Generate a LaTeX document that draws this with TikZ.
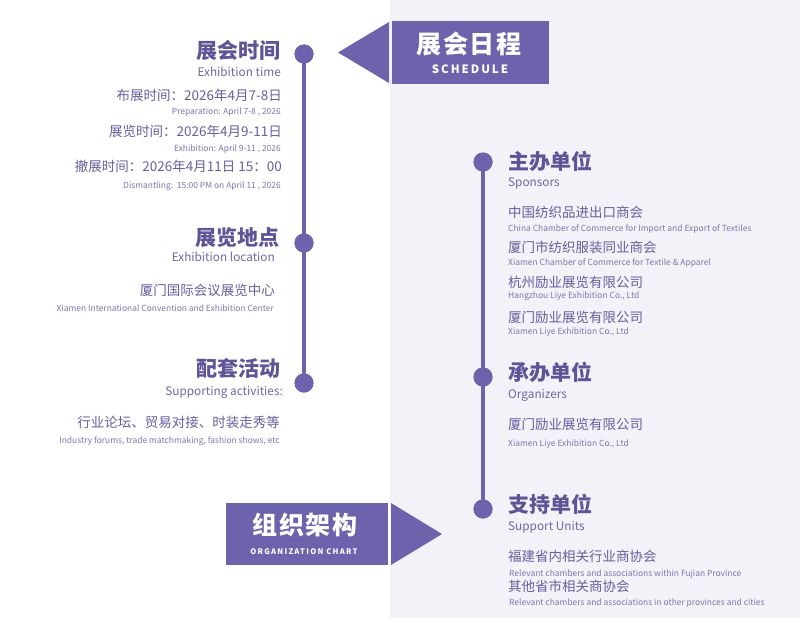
\documentclass[tikz,border=0pt]{standalone}
\usepackage{fontspec}
\setmainfont{Noto Sans CJK SC}
\newfontfamily\spacedfont{Noto Sans CJK SC}[LetterSpace=17]
\newfontfamily\spacedcjk{Noto Sans CJK SC}[LetterSpace=6]
\definecolor{mainpurple}{HTML}{6C63AC}
\definecolor{panel}{HTML}{F3F2F9}
\definecolor{titlecol}{HTML}{5E5596}
\definecolor{itemcol}{HTML}{675F9E}
\definecolor{subcol}{HTML}{6F68A3}
\definecolor{smallcol}{HTML}{7C76AD}
\tikzset{
  ttl/.style={font=\bfseries\fontsize{21}{21}\selectfont, text=titlecol, inner sep=0pt, text height=0.78em, text depth=0pt},
  ensub/.style={font=\fontsize{11.8}{11.8}\selectfont, text=subcol, inner sep=0pt, text height=0.72em, text depth=0pt},
  itm/.style={font=\fontsize{13.5}{13.5}\selectfont, text=itemcol, inner sep=0pt, text height=0.78em, text depth=0pt},
  sml/.style={font=\fontsize{8.45}{8.45}\selectfont, text=smallcol, inner sep=0pt, text height=0.72em, text depth=0pt},
  dot/.style={circle, fill=mainpurple, minimum size=19pt, inner sep=0pt},
  tline/.style={draw=mainpurple, line width=4pt},
  bannerbox/.style={fill=mainpurple, inner sep=0pt},
  bantitle/.style={font=\spacedcjk\bfseries\fontsize{25}{25}\selectfont, text=white, inner sep=0pt},
  bansub/.style={font=\spacedfont\bfseries\fontsize{11.5}{11.5}\selectfont, text=white, inner sep=0pt},
  bansubsmall/.style={font=\spacedfont\bfseries\fontsize{7.6}{7.6}\selectfont, text=white, inner sep=0pt}
}
\begin{document}
\begin{tikzpicture}[x=1pt,y=-1pt]
\useasboundingbox (0,0) rectangle (800,618);
\fill[white] (0,0) rectangle (390,618);
\fill[panel] (390,0) rectangle (800,618);

% top banner
\node[bannerbox, minimum width=157pt, minimum height=63pt] (schedbox) at (470.5,52.5) {};
\fill[mainpurple] (338,52.5) -- (389,22) -- (389,83) -- cycle;
\node[bantitle] (schedt) at (469,44) {展会日程};
\node[bansub] (scheds) at (470,69) {SCHEDULE};

% bottom banner
\node[bannerbox, minimum width=162pt, minimum height=62pt] (orgbox) at (307,534) {};
\fill[mainpurple] (391,503) -- (442,534) -- (391,565) -- cycle;
\node[bantitle] (orgt) at (305,525) {组织架构};
\node[bansubsmall] (orgs) at (304,552) {ORGANIZATION CHART};

% left timeline
\node[dot] (l1) at (304,54) {};
\node[dot] (l2) at (304,243) {};
\node[dot] (l3) at (304,383) {};
\draw[tline] (l1.center) -- (l3.center);
\node[dot] at (l1) {};
\node[dot] at (l2) {};
\node[dot] at (l3) {};

\node[ttl, anchor=east] (t1) at (281,55) {展会时间};
\node[ensub, anchor=east] (t1e) at (281,73) {Exhibition time};
\node[itm, anchor=east] (a1) at (282,97) {布展时间：2026年4月7-8日};
\node[sml, anchor=east] (a1e) at (281,111) {Preparation: April 7-8 , 2026};
\node[itm, anchor=east] (a2) at (282,133) {展览时间：2026年4月9-11日};
\node[sml, anchor=east] (a2e) at (281,148) {Exhibition: April 9-11 , 2026};
\node[itm, anchor=east] (a3) at (282,168) {撤展时间：2026年4月11日 15：00};
\node[sml, anchor=east] (a3e) at (281,185) {Dismantling:\ \ 15:00 PM on April 11 , 2026};

\node[ttl, anchor=east] (t2) at (280,242) {展览地点};
\node[ensub, anchor=east] (t2e) at (275,258) {Exhibition location};
\node[itm, anchor=east] (b1) at (275,292) {厦门国际会议展览中心};
\node[sml, anchor=east] (b1e) at (274,308) {Xiamen International Convention and Exhibition Center};

\node[ttl, anchor=east] (t3) at (281,373) {配套活动};
\node[ensub, anchor=east] (t3e) at (283,392) {Supporting activities:};
\node[itm, anchor=east] (c1) at (280,424) {行业论坛、贸易对接、时装走秀等};
\node[sml, anchor=east] (c1e) at (280,440) {Industry forums, trade matchmaking, fashion shows, etc};

% right timeline
\node[dot] (r1) at (483,162) {};
\node[dot] (r2) at (483,377) {};
\node[dot] (r3) at (483,509) {};
\draw[tline] (r1.center) -- (r3.center);
\node[dot] at (r1) {};
\node[dot] at (r2) {};
\node[dot] at (r3) {};

\node[ttl, anchor=west] (s1) at (508,166) {主办单位};
\node[ensub, anchor=west] (s1e) at (508,183) {Sponsors};
\node[itm, anchor=west] (d1) at (508,214) {中国纺织品进出口商会};
\node[sml, anchor=west] (d1e) at (508,228) {China Chamber of Commerce for Import and Export of Textiles};
\node[itm, anchor=west] (d2) at (508,249) {厦门市纺织服装同业商会};
\node[sml, anchor=west] (d2e) at (508,262) {Xiamen Chamber of Commerce for Textile \& Apparel};
\node[itm, anchor=west] (d3) at (508,284) {杭州励业展览有限公司};
\node[sml, anchor=west] (d3e) at (508,295) {Hangzhou Liye Exhibition Co., Ltd};
\node[itm, anchor=west] (d4) at (508,319) {厦门励业展览有限公司};
\node[sml, anchor=west] (d4e) at (508,331) {Xiamen Liye Exhibition Co., Ltd};

\node[ttl, anchor=west] (s2) at (508,377) {承办单位};
\node[ensub, anchor=west] (s2e) at (508,395) {Organizers};
\node[itm, anchor=west] (e1) at (508,426) {厦门励业展览有限公司};
\node[sml, anchor=west] (e1e) at (508,443) {Xiamen Liye Exhibition Co., Ltd};

\node[ttl, anchor=west] (s3) at (508,509) {支持单位};
\node[ensub, anchor=west] (s3e) at (508,527) {Support Units};
\node[itm, anchor=west] (f1) at (508,558) {福建省内相关行业商协会};
\node[sml, anchor=west] (f1e) at (509,573) {Relevant chambers and associations within Fujian Province};
\node[itm, anchor=west] (f2) at (508,588) {其他省市相关商协会};
\node[sml, anchor=west] (f2e) at (509,602) {Relevant chambers and associations in other provinces and cities};
\end{tikzpicture}
\end{document}
